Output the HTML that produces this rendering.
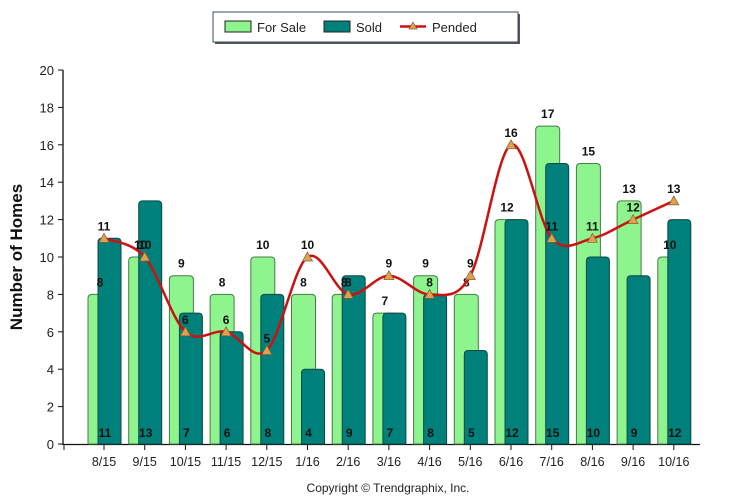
<!DOCTYPE html>
<html><head><meta charset="utf-8"><style>
body{margin:0;background:#fff;width:733px;height:500px;overflow:hidden}
svg{display:block;font-family:"Liberation Sans",Arial,sans-serif}
</style></head><body>
<svg id="c" width="733" height="500" xmlns="http://www.w3.org/2000/svg">
<rect x="215" y="14" width="305" height="30" fill="#555"/>
<rect x="213" y="12" width="305" height="30" fill="#fff" stroke="#3b4a6b" stroke-width="1"/>
<rect x="225" y="21" width="26" height="11" fill="#8ef58e" stroke="#222"/>
<text x="257" y="32" font-size="13" fill="#222">For Sale</text>
<rect x="324" y="21" width="26" height="11" fill="#00807a" stroke="#222"/>
<text x="356" y="32" font-size="13" fill="#222">Sold</text>
<line x1="400" y1="26.5" x2="426" y2="26.5" stroke="#cc1111" stroke-width="2.5"/>
<polygon points="413,22 417,29 409,29" fill="#e0a050" stroke="#806030" stroke-width="0.7"/>
<text x="432" y="32" font-size="13" fill="#222">Pended</text>
<text transform="translate(22,257) rotate(-90)" text-anchor="middle" font-size="17" font-weight="bold" fill="#111">Number of Homes</text>
<text x="388" y="492" text-anchor="middle" font-size="12" fill="#222">Copyright © Trendgraphix, Inc.</text>
<g id="g"></g>
</svg>
<script>
var fs=[8,10,9,8,10,8,8,7,9,8,12,17,15,13,10],
sd=[11,13,7,6,8,4,9,7,8,5,12,15,10,9,12],
pd=[11,10,6,6,5,10,8,9,8,9,16,11,11,12,13],
lb=["8/15","9/15","10/15","11/15","12/15","1/16","2/16","3/16","4/16","5/16","6/16","7/16","8/16","9/16","10/16"];
function Y(v){return 444-v*18.7}
function X(i){return 104+i*40.7}
var s='';
s+='<line x1="63" y1="70" x2="63" y2="445" stroke="#111" stroke-width="1.3"/>';
s+='<line x1="63" y1="444.5" x2="700" y2="444.5" stroke="#111" stroke-width="1.3"/>';
for(var v=0;v<=20;v+=2){var y=Y(v);s+='<line x1="58" y1="'+y+'" x2="63" y2="'+y+'" stroke="#111"/><text x="54" y="'+(y+5)+'" text-anchor="end" font-size="13" fill="#222">'+v+'</text>';}
s+='<line x1="64" y1="444" x2="64" y2="450" stroke="#111"/>';
function rr(x,y,w,h,r,f,st){return '<path d="M'+x+' 444V'+(y+r)+'Q'+x+' '+y+' '+(x+r)+' '+y+'H'+(x+w-r)+'Q'+(x+w)+' '+y+' '+(x+w)+' '+(y+r)+'V444Z" fill="'+f+'" stroke="'+st+'" stroke-width="1"/>';}
for(var i=0;i<15;i++){var c=X(i);
s+='<line x1="'+c+'" y1="444" x2="'+c+'" y2="450" stroke="#111"/>';
s+='<text x="'+c+'" y="466" text-anchor="middle" font-size="12.5" fill="#222">'+lb[i]+'</text>';
s+=rr(c-16,Y(fs[i]),24,fs[i]*18.7,4,'#8ef58e','#4a7a4a');
s+=rr(c-6,Y(sd[i]),23,sd[i]*18.7,4,'#00807a','#0b4a46');
s+='<text x="'+(c-4)+'" y="'+(Y(fs[i])-8)+'" text-anchor="middle" font-size="12" font-weight="bold" fill="#111">'+fs[i]+'</text>';
s+='<text x="'+(c+1)+'" y="437" text-anchor="middle" font-size="12" font-weight="bold" fill="#111">'+sd[i]+'</text>';
}
var P=pd.map(function(v,i){return [X(i),Y(v)]});
var d='M'+P[0][0]+' '+P[0][1];
for(var i=0;i<14;i++){var p0=P[Math.max(i-1,0)],p1=P[i],p2=P[i+1],p3=P[Math.min(i+2,14)];
d+='C'+(p1[0]+(p2[0]-p0[0])/6)+' '+(p1[1]+(p2[1]-p0[1])/6)+' '+(p2[0]-(p3[0]-p1[0])/6)+' '+(p2[1]-(p3[1]-p1[1])/6)+' '+p2[0]+' '+p2[1];}
s+='<path d="'+d+'" fill="none" stroke="#cc1111" stroke-width="2.5"/>';
for(var i=0;i<15;i++){var x=P[i][0],y=P[i][1];
s+='<polygon points="'+x+','+(y-5)+' '+(x+5)+','+(y+4)+' '+(x-5)+','+(y+4)+'" fill="#e0a050" stroke="#806030" stroke-width="0.7"/>';
s+='<text x="'+x+'" y="'+(y-8)+'" text-anchor="middle" font-size="12" font-weight="bold" fill="#111">'+pd[i]+'</text>';}
document.getElementById('g').innerHTML=s;
</script>
</body></html>
